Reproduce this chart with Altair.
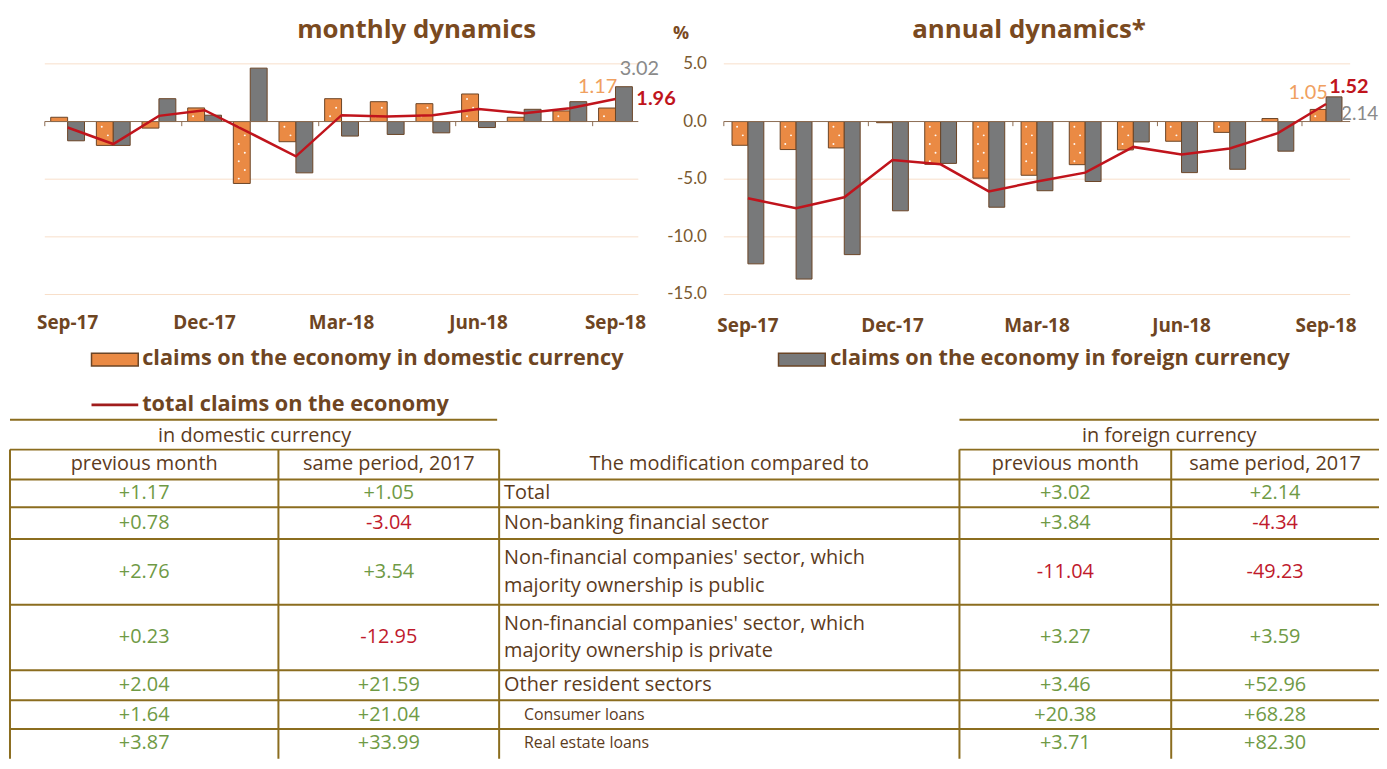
import altair as alt
import pandas as pd

# ---------------- data ----------------
months = ["Sep-17", "Oct-17", "Nov-17", "Dec-17", "Jan-18", "Feb-18", "Mar-18",
          "Apr-18", "May-18", "Jun-18", "Jul-18", "Aug-18", "Sep-18"]
tick_months = ["Sep-17", "Dec-17", "Mar-18", "Jun-18", "Sep-18"]

monthly_domestic = [0.37, -2.07, -0.57, 1.18, -5.37, -1.75, 1.98, 1.72, 1.55, 2.39, 0.37, 0.92, 1.17]
monthly_foreign = [-1.67, -2.07, 1.98, 0.55, 4.63, -4.45, -1.26, -1.12, -0.98, -0.52, 1.06, 1.72, 3.02]
monthly_total = [-0.52, -1.95, 0.49, 0.98, -1.00, -3.02, 0.55, 0.43, 0.55, 1.09, 0.72, 1.15, 1.96]

annual_domestic = [-2.06, -2.43, -2.29, -0.10, -3.71, -4.91, -4.66, -3.74, -2.46, -1.71, -0.94, 0.26, 1.05]
annual_foreign = [-12.34, -13.66, -11.54, -7.74, -3.63, -7.43, -6.00, -5.20, -1.77, -4.43, -4.14, -2.57, 2.14]
annual_total = [-6.66, -7.51, -6.57, -3.34, -3.71, -6.06, -5.20, -4.43, -2.20, -2.86, -2.34, -1.00, 1.52]

y_ticks = [5.0, 0.0, -5.0, -10.0, -15.0]
unit_label = "%"
titles = ["monthly dynamics", "annual dynamics*"]
series_names = ["claims on the economy in domestic currency",
                "claims on the economy in foreign currency",
                "total claims on the economy"]

header_groups = ["in domestic currency", "in foreign currency"]
header_cols = ["previous month", "same period, 2017", "The modification compared to",
               "previous month", "same period, 2017"]
row_labels = ["Total",
              "Non-banking financial sector",
              "Non-financial companies' sector, which\nmajority ownership is public",
              "Non-financial companies' sector, which\nmajority ownership is private",
              "Other resident sectors",
              "Consumer loans",
              "Real estate loans"]
row_is_sub = [False, False, False, False, False, True, True]
dom_prev = [1.17, 0.78, 2.76, 0.23, 2.04, 1.64, 3.87]
dom_same = [1.05, -3.04, 3.54, -12.95, 21.59, 21.04, 33.99]
for_prev = [3.02, 3.84, -11.04, 3.27, 3.46, 20.38, 3.71]
for_same = [2.14, -4.34, -49.23, 3.59, 52.96, 68.28, 82.30]

# ---------------- styles / layout ----------------
W, H = 1379, 753
FONT = "'Open Sans', Lato, sans-serif"
NFONT = "Lato, 'Open Sans', sans-serif"
TFONT = "'Open Sans', Lato, sans-serif"
ORANGE = "#ea8a44"
GRAY = "#78797a"
RED = "#c0141c"
BAR_STROKE = "#6b4526"
GRID = "#f8dfca"
AXIS = "#8c6c52"
BROWN = "#7a4a1f"
TXT = "#5c3b1c"
GREEN = "#6f9a45"
NEG = "#c01a2c"
LINE_C = "#8b6d1f"

Y_RANGE = [286, 54]
N = len(months)


def dynamics(dom, frg, tot, x_range, bar_w, tick_dy, value_labels, with_y_labels):
    xs = alt.Scale(domain=[-0.5, N - 0.5], range=x_range, nice=False, zero=False, padding=0)
    ys = alt.Scale(domain=[-15, 5], range=Y_RANGE, nice=False, zero=False, padding=0)

    def X(f):
        return alt.X(f, scale=xs, axis=None)

    def Y(f):
        return alt.Y(f, scale=ys, axis=None)

    df = pd.DataFrame({"i": list(range(N)), "month": months, "dom": dom, "frg": frg,
                       "tot": tot, "zero": [0.0] * N})

    grid_df = pd.DataFrame({"v": [v for v in y_ticks if v != 0],
                            "x0": -0.5, "x1": N - 0.5})
    grid = alt.Chart(grid_df).mark_rule(color=GRID, strokeWidth=1).encode(
        x=X("x0:Q"), x2="x1:Q", y=Y("v:Q"))

    bars_dom = alt.Chart(df).mark_bar(orient="vertical", width=bar_w, xOffset=-bar_w / 2,
                                      color=ORANGE, stroke=BAR_STROKE, strokeWidth=1).encode(
        x=X("i:Q"), y=Y("dom:Q"), y2="zero:Q")
    bars_frg = alt.Chart(df).mark_bar(orient="vertical", width=bar_w, xOffset=bar_w / 2,
                                      color=GRAY, stroke=BAR_STROKE, strokeWidth=1).encode(
        x=X("i:Q"), y=Y("frg:Q"), y2="zero:Q")

    # white dot texture on the domestic-currency bars
    dots = []
    for i, v in enumerate(dom):
        s = 1 if v >= 0 else -1
        k = 0
        while 0.45 + 0.75 * k < abs(v) - 0.25:
            dots.append({"i": i, "y": s * (0.45 + 0.75 * k), "col": k % 2})
            k += 1
    dots_df = pd.DataFrame(dots)
    dot_layers = []
    for c, off in [(0, -bar_w * 0.68), (1, -bar_w * 0.32)]:
        dot_layers.append(
            alt.Chart(dots_df[dots_df["col"] == c]).mark_circle(
                color="white", size=4, opacity=0.95, xOffset=off).encode(
                x=X("i:Q"), y=Y("y:Q")))

    zero_df = pd.DataFrame({"v": [0.0], "x0": [-0.5], "x1": [N - 0.5]})
    zero = alt.Chart(zero_df).mark_rule(color=AXIS, strokeWidth=1).encode(
        x=X("x0:Q"), x2="x1:Q", y=Y("v:Q"))

    tick_idx = [months.index(m) for m in tick_months]
    ticks_df = pd.DataFrame({"b": [i - 0.5 for i in tick_idx], "y0": 0.0, "y1": -0.4})
    ticks = alt.Chart(ticks_df).mark_rule(color=AXIS, strokeWidth=1).encode(
        x=X("b:Q"), y=Y("y0:Q"), y2="y1:Q")

    line = alt.Chart(df).mark_line(color=RED, strokeWidth=2.5).encode(
        x=X("i:Q"), y=Y("tot:Q"))

    tl_df = pd.DataFrame({"i": tick_idx, "t": tick_months, "y": -15.0})
    tick_labels = alt.Chart(tl_df).mark_text(
        font=FONT, fontSize=19, fontWeight="bold", color="#6e4522", dy=tick_dy,
        baseline="middle", align="center").encode(x=X("i:Q"), y=Y("y:Q"), text="t:N")

    layers = [grid, bars_dom, bars_frg] + dot_layers + [zero, ticks, line, tick_labels]

    for txt, val, color, weight, align, dx, dy, size in value_labels:
        ldf = pd.DataFrame({"i": [N - 1], "v": [val], "t": [txt]})
        layers.append(alt.Chart(ldf).mark_text(
            font=NFONT, fontSize=size, fontWeight=weight, color=color, align=align,
            baseline="middle", dx=dx, dy=dy).encode(x=X("i:Q"), y=Y("v:Q"), text="t:N"))

    if with_y_labels:
        yl_df = pd.DataFrame({"v": y_ticks, "t": [f"{v:.1f}" for v in y_ticks], "x": -0.5})
        layers.append(alt.Chart(yl_df).mark_text(
            font=NFONT, fontSize=17, color="#7a5a30", align="right", baseline="middle",
            dx=-17).encode(x=X("x:Q"), y=Y("v:Q"), text="t:N"))
        u_df = pd.DataFrame({"x": [-0.5], "v": [max(y_ticks)], "t": [unit_label]})
        layers.append(alt.Chart(u_df).mark_text(
            font=FONT, fontSize=18, fontWeight="bold", color=BROWN, align="center",
            baseline="middle", dx=-43, dy=-30).encode(x=X("x:Q"), y=Y("v:Q"), text="t:N"))

    return alt.layer(*layers)


g1 = dynamics(monthly_domestic, monthly_foreign, monthly_total, [37, 634], 17, 29,
              [(f"{monthly_foreign[-1]:.2f}", monthly_foreign[-1], "#8a8a8a", "normal", "center", 24, -18, 20),
               (f"{monthly_domestic[-1]:.2f}", monthly_domestic[-1], "#f0a060", "normal", "center", -18, -21, 20),
               (f"{monthly_total[-1]:.2f}", monthly_total[-1], RED, "bold", "left", 21, 0, 20)],
              False)
g2 = dynamics(annual_domestic, annual_foreign, annual_total, [720, 1350], 16, 32,
              [(f"{annual_domestic[-1]:.2f}", annual_domestic[-1], "#f0a060", "normal", "center", -18, -16, 20),
               (f"{annual_total[-1]:.2f}", annual_total[-1], RED, "bold", "center", 23, -17, 20),
               (f"{annual_foreign[-1]:.2f}", annual_foreign[-1], "#8a8a8a", "normal", "left", 15, 17, 19)],
              True)

# ---------------- overlay: titles, legends, table ----------------
xs3 = alt.Scale(domain=[0, W], range=[0, W], nice=False, zero=False, padding=0)
ys3 = alt.Scale(domain=[0, H], range=[0, H], nice=False, zero=False, padding=0)


def X3(f):
    return alt.X(f, scale=xs3, axis=None)


def Y3(f):
    return alt.Y(f, scale=ys3, axis=None)


def texts(rows, **kw):
    d = pd.DataFrame(rows, columns=["x", "y", "t"])
    props = dict(font=FONT, baseline="middle", align="center")
    props.update(kw)
    return alt.Chart(d).mark_text(**props).encode(x=X3("x:Q"), y=Y3("y:Q"), text="t:N")


over = []
over.append(texts([(411, 20, titles[0]), (1027, 20, titles[1])],
                  fontSize=26, fontWeight="bold", color=BROWN))

# legends
sw = pd.DataFrame({"x": [84, 775], "x2": [131, 822], "y": [345, 345], "y2": [358, 358]})
over.append(alt.Chart(sw.iloc[[0]]).mark_rect(color=ORANGE, stroke=BAR_STROKE, strokeWidth=1.5).encode(
    x=X3("x:Q"), x2="x2:Q", y=Y3("y:Q"), y2="y2:Q"))
over.append(alt.Chart(sw.iloc[[1]]).mark_rect(color=GRAY, stroke=BAR_STROKE, strokeWidth=1.5).encode(
    x=X3("x:Q"), x2="x2:Q", y=Y3("y:Q"), y2="y2:Q"))
lg = pd.DataFrame({"x": [84], "x2": [131], "y": [397]})
over.append(alt.Chart(lg).mark_rule(color="#a01c1c", strokeWidth=3).encode(
    x=X3("x:Q"), x2="x2:Q", y=Y3("y:Q")))
over.append(texts([(135, 350, series_names[0]), (827, 350, series_names[1]),
                   (135, 396, series_names[2])],
                  fontSize=21.8, fontWeight="bold", color="#6e4522", align="left"))

# table layout
COLS = [2, 272, 494, 957, 1170, 1379]
ROWS = [472, 500, 532, 598, 664, 694, 723, 752]
GROUP_TOP, HEAD_TOP = 412, 442
LINE_GAP = 28

hl = []
hl += [(COLS[0], COLS[2] - 2, GROUP_TOP), (COLS[3], COLS[5], GROUP_TOP)]
hl += [(COLS[0], COLS[2], HEAD_TOP), (COLS[3], COLS[5], HEAD_TOP)]
hl += [(COLS[0], COLS[5], r) for r in ROWS[:-1]]
hdf = pd.DataFrame(hl, columns=["x", "x2", "y"])
over.append(alt.Chart(hdf).mark_rule(color=LINE_C, strokeWidth=2).encode(
    x=X3("x:Q"), x2="x2:Q", y=Y3("y:Q")))
vdf = pd.DataFrame({"x": COLS[:5], "y": HEAD_TOP, "y2": H})
over.append(alt.Chart(vdf).mark_rule(color=LINE_C, strokeWidth=2).encode(
    x=X3("x:Q"), y=Y3("y:Q"), y2="y2:Q"))

cc = [(COLS[k] + COLS[k + 1]) / 2 for k in range(5)]
head_y = (HEAD_TOP + ROWS[0]) / 2
over.append(texts([((COLS[0] + COLS[2]) / 2, (GROUP_TOP + HEAD_TOP) / 2 + 1, header_groups[0]),
                   ((COLS[3] + COLS[5]) / 2, (GROUP_TOP + HEAD_TOP) / 2 + 1, header_groups[1])]
                  + [(cc[k], head_y, header_cols[k]) for k in range(5)],
                  font=TFONT, fontSize=20, color=TXT))

pos_rows, neg_rows, lab_rows, sub_rows = [], [], [], []
for r in range(len(row_labels)):
    yc = (ROWS[r] + ROWS[r + 1]) / 2
    for k, vals in zip([0, 1, 3, 4], [dom_prev, dom_same, for_prev, for_same]):
        v = vals[r]
        (pos_rows if v >= 0 else neg_rows).append((cc[k], yc, f"{v:+.2f}"))
    lines = row_labels[r].split("\n")
    n = len(lines)
    for j, ln in enumerate(lines):
        yy = yc + (j - (n - 1) / 2) * LINE_GAP
        if row_is_sub[r]:
            sub_rows.append((COLS[2] + 25, yy, ln))
        else:
            lab_rows.append((COLS[2] + 5, yy, ln))
over.append(texts(pos_rows, font=TFONT, fontSize=20, color=GREEN))
over.append(texts(neg_rows, font=TFONT, fontSize=20, color=NEG))
over.append(texts(lab_rows, font=TFONT, fontSize=20, color=TXT, align="left"))
over.append(texts(sub_rows, font=TFONT, fontSize=16, color=TXT, align="left"))

g3 = alt.layer(*over)

chart = alt.layer(g1, g2, g3).resolve_scale(x="independent", y="independent").properties(
    width=W, height=H, autosize=alt.AutoSizeParams(type="none"), padding=0
).configure_view(stroke=None)

chart.save("out.html", embed_options={"renderer": "svg", "actions": False})
